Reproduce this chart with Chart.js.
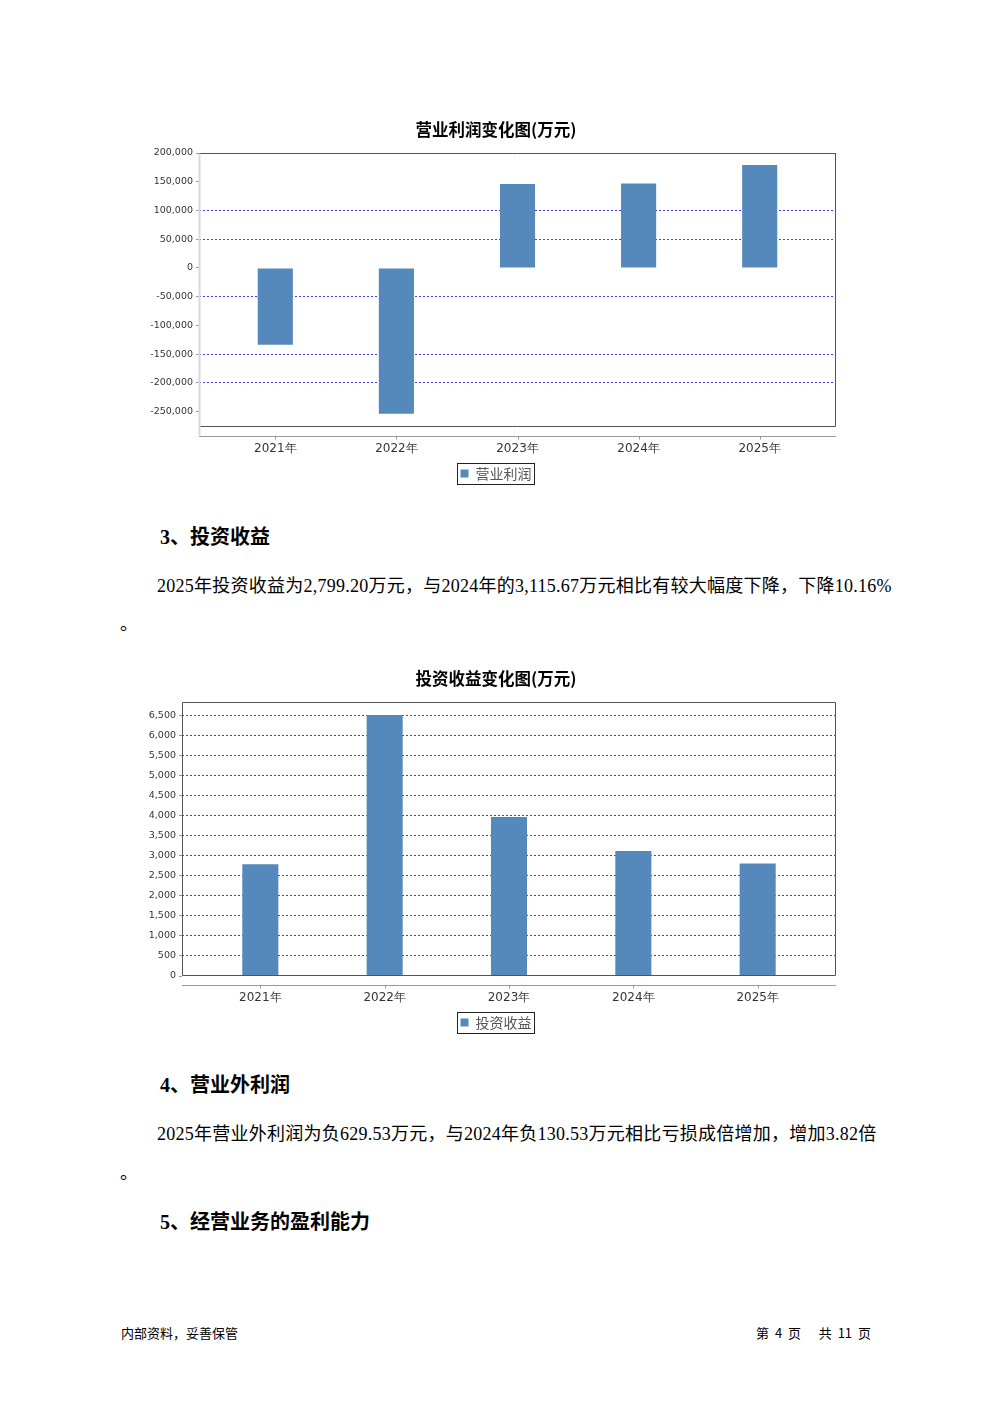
<!DOCTYPE html>
<html>
<head>
<meta charset="utf-8">
<script src="https://cdn.jsdelivr.net/npm/chart.js@4.4.0/dist/chart.umd.min.js"></script>
<style>
body { margin: 0; background: #fff; }
#page { position: relative; width: 992px; height: 1403px; overflow: hidden; color: #000;
  font-family: "Liberation Serif", "Noto Sans CJK SC", serif; }
.t { position: absolute; white-space: nowrap; }
.h { font-size: 20px; line-height: 20px; font-weight: bold; }
.p { font-size: 18px; line-height: 18px; letter-spacing: 0.25px; }
.foot { font-size: 13px; line-height: 13px; font-family: "Noto Sans CJK SC", sans-serif; }
canvas { position: absolute; left: 100px; }
</style>
</head>
<body>
<div id="page">
  <canvas id="opChart" width="792" height="400" style="top:100px"></canvas>

  <div class="t h" style="left:160px; top:527px">3、投资收益</div>
  <div class="t p" style="left:157px; top:577px">2025年投资收益为2,799.20万元，与2024年的3,115.67万元相比有较大幅度下降，下降10.16%</div>
  <div class="t p" style="left:120px; top:615px">。</div>

  <canvas id="invChart" width="792" height="400" style="top:649px"></canvas>

  <div class="t h" style="left:160px; top:1075px">4、营业外利润</div>
  <div class="t p" style="left:157px; top:1125px">2025年营业外利润为负629.53万元，与2024年负130.53万元相比亏损成倍增加，增加3.82倍</div>
  <div class="t p" style="left:120px; top:1164px">。</div>
  <div class="t h" style="left:160px; top:1212px">5、经营业务的盈利能力</div>

  <div class="t foot" style="left:121px; top:1326px">内部资料，妥善保管</div>
  <div class="t foot" style="right:121px; top:1326px; word-spacing:3px">第 4 页&nbsp;&nbsp; 共 11 页</div>
</div>

<script>
// categories and values (万元)
const years = ["2021年", "2022年", "2023年", "2024年", "2025年"];
const opProfit = [-134000, -254000, 146000, 147000, 179000];
const invIncome = [2785, 6500, 3960, 3115.67, 2799.20];

// y axis ticks
const opTicks = [200000, 150000, 100000, 50000, 0, -50000, -100000, -150000, -200000, -250000];
const invTicks = [0, 500, 1000, 1500, 2000, 2500, 3000, 3500, 4000, 4500, 5000, 5500, 6000, 6500];
const opRange = [-277000, 200000];
const invRange = [0, 6825];
// grid lines that do not show in the original picture
const opNoGrid = [150000, 0, -100000, -250000];
const invNoGrid = [0];

const barColor = "#5589bb";

// plot frame, category axis line and legend box
const framePlugin = {
  id: "frame",
  afterDraw(chart, args, opts) {
    const { ctx, chartArea: a, scales: { x } } = chart;
    const l = Math.round(a.left) + 0.5, r = Math.round(a.right) - 0.5;
    const t = Math.round(a.top) + 0.5, b = Math.round(a.bottom) - 0.5;
    ctx.save();
    ctx.lineWidth = 1;
    ctx.strokeStyle = "#555";
    ctx.beginPath();
    ctx.moveTo(l, t); ctx.lineTo(r, t); ctx.lineTo(r, b); ctx.lineTo(l, b);
    if (!opts.lightLeft) ctx.lineTo(l, t);
    ctx.stroke();
    if (opts.lightLeft) {
      ctx.strokeStyle = "#d9d9d9";
      ctx.lineWidth = 2;
      ctx.beginPath();
      ctx.moveTo(l, t); ctx.lineTo(l, b + 9);
      ctx.stroke();
    }

    // category axis
    const y0 = Math.round(a.bottom) + 9.5;
    ctx.strokeStyle = "#999";
    ctx.lineWidth = 1;
    ctx.beginPath();
    ctx.moveTo(a.left, y0); ctx.lineTo(a.right, y0);
    years.forEach((_, i) => {
      const px = Math.round(x.getPixelForValue(i)) + 0.5;
      ctx.moveTo(px, y0); ctx.lineTo(px, y0 + 3);
    });
    ctx.stroke();

    // legend frame
    const hb = chart.legend.legendHitBoxes[0];
    if (hb) {
      const cy = hb.top + hb.height / 2;
      ctx.strokeStyle = "#222";
      ctx.strokeRect(Math.round(hb.left - 4) + 0.5, Math.round(cy - 10.5) + 0.5, Math.round(hb.width + 6), 21);
    }
    ctx.restore();
  }
};

function makeChart(id, title, label, values, range, ticks, noGrid, yWidth, lightLeft) {
  return new Chart(document.getElementById(id), {
    type: "bar",
    data: {
      datasets: [{
        label: label,
        data: values.map((v, i) => ({ x: i, y: v })),
        backgroundColor: barColor,
        categoryPercentage: 1,
        barPercentage: 0.29
      }]
    },
    options: {
      responsive: false,
      animation: false,
      layout: { padding: { left: 0, right: 0, top: 0, bottom: 9.5 } },
      plugins: {
        title: {
          display: true,
          text: title,
          color: "#000",
          font: { family: "Noto Sans CJK SC", size: 16.5, weight: "bold" },
          padding: { top: 20, bottom: 13.2 }
        },
        legend: {
          position: "bottom",
          labels: {
            boxWidth: 8,
            boxHeight: 8,
            padding: 10,
            color: "#555",
            font: { family: "Noto Sans CJK SC", size: 14 }
          }
        },
        tooltip: { enabled: false },
        frame: { lightLeft: lightLeft }
      },
      scales: {
        x: {
          type: "linear",
          min: -0.63,
          max: 4.63,
          offset: false,
          afterBuildTicks: s => { s.ticks = years.map((_, i) => ({ value: i })); },
          afterFit: s => { s.height = 29.5; },
          grid: { display: false, drawTicks: false },
          border: { display: false },
          ticks: {
            autoSkip: false,
            maxRotation: 0,
            padding: 15,
            color: "#333",
            font: { family: "DejaVu Sans", size: 12 },
            callback: v => years[v]
          }
        },
        y: {
          min: range[0],
          max: range[1],
          afterBuildTicks: s => { s.ticks = ticks.map(v => ({ value: v })); },
          afterFit: s => { s.width = yWidth; },
          grid: {
            color: c => (c.tick && noGrid.includes(c.tick.value)) ? "rgba(0,0,0,0)" : "#3b3bff",
            lineWidth: 1,
            tickColor: "#999",
            tickLength: 3
          },
          border: { display: false, dash: [2, 2] },
          ticks: {
            padding: 3,
            color: "#333",
            font: { family: "DejaVu Sans", size: 9.5 },
            callback: v => v.toLocaleString("en-US")
          }
        },
        // empty right margin so title and legend stay centred on the page
        yRight: {
          position: "right",
          afterFit: s => { s.width = 56; },
          grid: { display: false, drawTicks: false },
          border: { display: false },
          ticks: { display: false }
        }
      }
    },
    plugins: [framePlugin]
  });
}

makeChart("opChart", "营业利润变化图(万元)", "营业利润", opProfit, opRange, opTicks, opNoGrid, 99, true);
makeChart("invChart", "投资收益变化图(万元)", "投资收益", invIncome, invRange, invTicks, invNoGrid, 82, false);
</script>
</body>
</html>
